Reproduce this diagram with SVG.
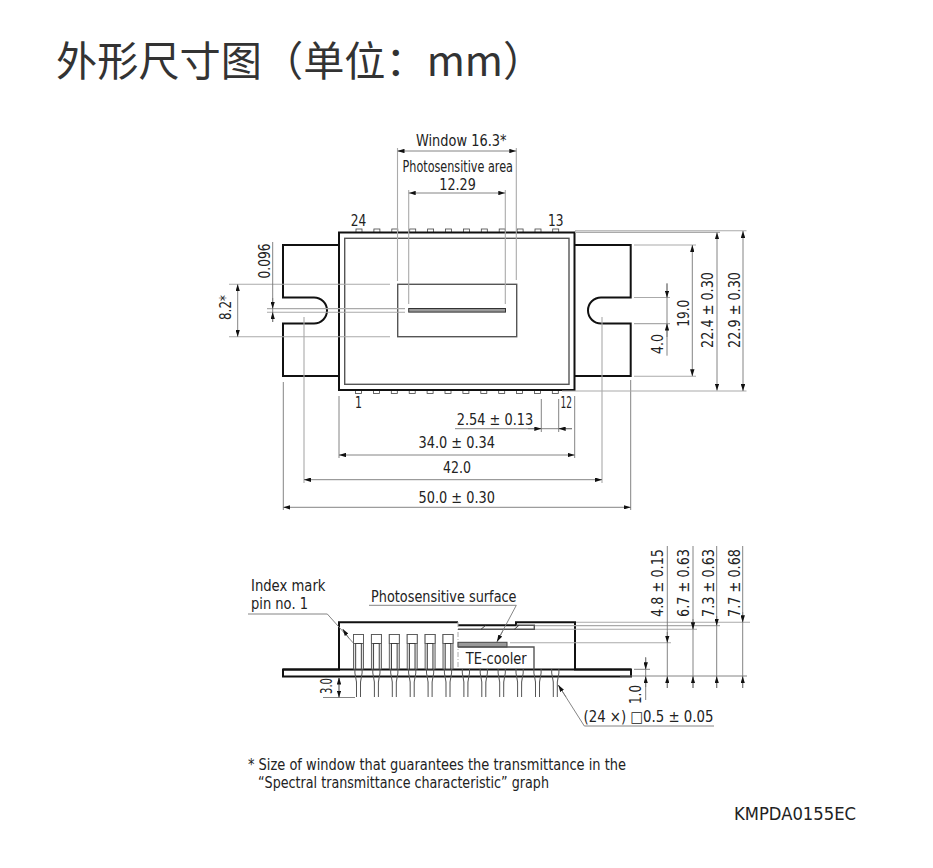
<svg xmlns="http://www.w3.org/2000/svg" xmlns:xlink="http://www.w3.org/1999/xlink" width="933" height="868" viewBox="0 0 933 868">
<style>
text{font-family:"DejaVu Sans","Noto Sans",sans-serif;font-size:15px;fill:#222}
.title{font-family:"Noto Sans CJK SC","Noto Sans",sans-serif;font-size:41.2px;fill:#333}
.fat{fill:none;stroke:#111;stroke-width:2}
.mid{fill:none;stroke:#555;stroke-width:1.4}
.thin{fill:none;stroke:#333;stroke-width:.9}
.d{fill:none;stroke:#777;stroke-width:.9}
.l{fill:none;stroke:#aaa;stroke-width:1.1}
.a{fill:none;stroke:#777;stroke-width:.9;marker-end:url(#ar)}
.b{fill:none;stroke:#777;stroke-width:.9;marker-start:url(#ar);marker-end:url(#ar)}
</style>
<defs>
<marker id="ar" markerUnits="userSpaceOnUse" markerWidth="7" markerHeight="4.4" viewBox="0 0 7 4.4" refX="7" refY="2.2" orient="auto-start-reverse"><path d="M0 0L7 2.2L0 4.4z" fill="#111"/></marker>
<rect id="tp" x="-3" y="0" width="6" height="3.4" fill="#fff" stroke="#444" stroke-width=".8"/>
<path id="stem" d="M-3.6 669L-3.6 673L-2 682V697M3.6 669L3.6 673L2 682V697" fill="#e8e8e8" stroke="#555" stroke-width="1"/>
<g id="head"><rect x="-5" y="634.5" width="10" height="34.5" fill="#e0e0e0" stroke="#555" stroke-width=".9"/><rect x="-5" y="634.5" width="10" height="9" fill="#fff" stroke="#555" stroke-width=".9"/><rect x="-2.8" y="643.5" width="5.6" height="25.5" fill="#fff" stroke="#333" stroke-width=".9"/></g>
</defs>
<rect width="933" height="868" fill="#fff"/>
<text class="title" x="56" y="76">外形尺寸图（单位：mm）</text>

<g id="top-view">
<g id="top-pins">
<use href="#tp" x="359" y="229"/><use href="#tp" x="376.9" y="229"/><use href="#tp" x="394.8" y="229"/><use href="#tp" x="412.7" y="229"/><use href="#tp" x="430.6" y="229"/><use href="#tp" x="448.5" y="229"/><use href="#tp" x="466.4" y="229"/><use href="#tp" x="484.3" y="229"/><use href="#tp" x="502.2" y="229"/><use href="#tp" x="520.1" y="229"/><use href="#tp" x="538" y="229"/><use href="#tp" x="555.7" y="229"/>
<use href="#tp" x="358.5" y="390"/><use href="#tp" x="376.4" y="390"/><use href="#tp" x="394.3" y="390"/><use href="#tp" x="412.2" y="390"/><use href="#tp" x="430.1" y="390"/><use href="#tp" x="448" y="390"/><use href="#tp" x="465.9" y="390"/><use href="#tp" x="483.8" y="390"/><use href="#tp" x="501.7" y="390"/><use href="#tp" x="519.6" y="390"/><use href="#tp" x="537.5" y="390"/><use href="#tp" x="555.3" y="390"/>
</g>
<rect class="fat" x="339" y="232.5" width="235.5" height="157.5"/>
<rect class="mid" x="344.7" y="238.3" width="224.3" height="146"/>
<path id="flange-left" class="fat" d="M339 245H283V297.5H314A13 13 0 0 1 314 323.5H283V376H339"/>
<path id="flange-right" class="fat" d="M575 245H630.7V297.5H601A13 13 0 0 0 601 323.5H630.7V376H575"/>
<rect id="window" class="mid" x="397.7" y="284.3" width="119" height="52.4"/>
<rect id="slit" x="408.7" y="308.5" width="96.8" height="3.6" fill="#999" stroke="#333" stroke-width="1"/>
</g>

<g id="dimensions-top">
<path class="l" d="M397.5 148V281M516.3 148V280M408.7 190V304M505.3 190V304"/>
<path class="b" d="M397.5 151H516.3"/>
<path class="b" d="M408.7 193H505.3"/>
<path class="l" d="M229 284.2H390M229 336.8H390M267 308.6H405M267 312.2H405"/>
<path class="b" d="M237.7 284.2V336.8"/>
<path class="d" d="M272.7 242V322"/>
<path class="a" d="M272.7 298V308.6"/>
<path class="a" d="M272.7 322V312.2"/>
<path class="l" d="M304 317V483M602 317V483"/>
<path class="d" d="M283.3 382V510M630.7 380V510M339 396V458M574.7 396V458M541.3 399V432M558.7 399V432"/>
<path class="b" d="M304 479.7H602"/>
<path class="b" d="M283.3 507.3H630.7"/>
<path class="b" d="M339 455H574.7"/>
<path class="d" d="M455 428.7H572"/>
<path class="a" d="M528 428.7H541.3"/>
<path class="a" d="M572 428.7H558.7"/>
<path class="l" d="M575 230.8H746.5M575 232.4H720M562 391H746.5M634 245H696M634 376.2H696M634 297.5H670M634 323.6H670"/>
<path class="b" d="M717 232.4V390.5"/>
<path class="b" d="M743 231V391"/>
<path class="b" d="M692.3 245V376.2"/>
<path class="d" d="M667 283V355.7"/>
<path class="a" d="M667 284V297.5"/>
<path class="a" d="M667 337V323.6"/>
</g>

<g id="labels-top">
<text x="416" y="145.7" textLength="90.5" lengthAdjust="spacingAndGlyphs">Window 16.3*</text>
<text x="402.5" y="172" textLength="110.5" lengthAdjust="spacingAndGlyphs">Photosensitive area</text>
<text x="439.3" y="190" textLength="36.5" lengthAdjust="spacingAndGlyphs">12.29</text>
<text x="350.7" y="225.5" textLength="15.5" lengthAdjust="spacingAndGlyphs">24</text>
<text x="548" y="225.5" textLength="15.5" lengthAdjust="spacingAndGlyphs">13</text>
<text x="355" y="408" textLength="7" lengthAdjust="spacingAndGlyphs">1</text>
<text x="560.5" y="408" textLength="11.5" lengthAdjust="spacingAndGlyphs">12</text>
<text x="456.7" y="425" textLength="76.5" lengthAdjust="spacingAndGlyphs">2.54 ± 0.13</text>
<text x="418.5" y="448" textLength="76.5" lengthAdjust="spacingAndGlyphs">34.0 ± 0.34</text>
<text x="443" y="473" textLength="28" lengthAdjust="spacingAndGlyphs">42.0</text>
<text x="418.5" y="503" textLength="76.5" lengthAdjust="spacingAndGlyphs">50.0 ± 0.30</text>
<text transform="translate(270 278.5) rotate(-90)" textLength="35" lengthAdjust="spacingAndGlyphs">0.096</text>
<text transform="translate(231 320) rotate(-90)" textLength="25" lengthAdjust="spacingAndGlyphs">8.2*</text>
<text transform="translate(688.5 326.7) rotate(-90)" textLength="27" lengthAdjust="spacingAndGlyphs">19.0</text>
<text transform="translate(663 354) rotate(-90)" textLength="20" lengthAdjust="spacingAndGlyphs">4.0</text>
<text transform="translate(713 348) rotate(-90)" textLength="76" lengthAdjust="spacingAndGlyphs">22.4 ± 0.30</text>
<text transform="translate(739.5 348) rotate(-90)" textLength="76" lengthAdjust="spacingAndGlyphs">22.9 ± 0.30</text>
</g>

<g id="side-view">
<rect id="plate" class="fat" x="283" y="669.5" width="348" height="7" fill="#fff"/>
<path id="body" class="fat" d="M283 669.5H339V622.3H458M458 625.3H516V622.3H575V669.5H631"/>
<path d="M458 622V669" fill="none" stroke="#aaa" stroke-width="1" stroke-dasharray="5 2 1 2"/>
<g id="side-pins">
<use href="#head" x="358.5"/><use href="#head" x="376.4"/><use href="#head" x="394.3"/><use href="#head" x="412.2"/><use href="#head" x="430.1"/><use href="#head" x="448"/>
<use href="#stem" x="358.5"/><use href="#stem" x="376.4"/><use href="#stem" x="394.3"/><use href="#stem" x="412.2"/><use href="#stem" x="430.1"/><use href="#stem" x="448"/><use href="#stem" x="465.9"/><use href="#stem" x="483.8"/><use href="#stem" x="501.7"/><use href="#stem" x="519.6"/><use href="#stem" x="537.5"/><use href="#stem" x="555.3"/>
</g>
<path id="glass" class="mid" d="M516 625.3H534.3V629.3H458"/>
<path class="thin" d="M481 629.3L485.7 625.3M514.3 629.3L519 625.3"/>
<rect id="chip" x="458" y="642.3" width="49" height="4.7" fill="#999" stroke="#444" stroke-width="1"/>
<path id="cooler" class="mid" d="M458 647H534V669"/>
<text x="465.7" y="664" textLength="61" lengthAdjust="spacingAndGlyphs">TE-cooler</text>
</g>

<g id="dimensions-side">
<path class="l" d="M576 622.3H750M535 625.6H720M535 629.3H697M510 642.7H671"/>
<path class="d" d="M620 676H747M634 669.3H650M323 697.5H355"/>
<path class="d" d="M667.3 546V688M693 546V688M716.7 546V688M742.7 546V688M645.7 657V700M339 678V697"/>
<path class="a" d="M667.3 632V642.7"/><path class="a" d="M667.3 688V676.3"/>
<path class="a" d="M693 619V629.3"/><path class="a" d="M693 688V676.3"/>
<path class="a" d="M716.7 616V625.6"/><path class="a" d="M716.7 688V676.3"/>
<path class="a" d="M742.7 612V622.3"/><path class="a" d="M742.7 688V676.3"/>
<path class="a" d="M645.7 658V669.3"/><path class="a" d="M645.7 687V676.3"/>
<path class="b" d="M339 677.5V697.5"/>
<path class="d" d="M248 614H327.3L353.3 643"/>
<path class="a" d="M349 638.3L342.7 629"/>
<path class="d" d="M369 605.3H516.3L497 641.7"/>
<path class="a" d="M503 630.5L497 641.7"/>
<path class="d" d="M714 726H584.3L558.3 685"/>
<path class="a" d="M566 697L558.3 685"/>
</g>

<g id="labels-side">
<text x="251" y="590.7" textLength="74.5" lengthAdjust="spacingAndGlyphs">Index mark</text>
<text x="251" y="608.5" textLength="57" lengthAdjust="spacingAndGlyphs">pin no. 1</text>
<text x="371" y="601.5" textLength="145.5" lengthAdjust="spacingAndGlyphs">Photosensitive surface</text>
<text x="583.5" y="721.7" textLength="130" lengthAdjust="spacingAndGlyphs">(24 ×) □0.5 ± 0.05</text>
<text transform="translate(663.3 617) rotate(-90)" textLength="68" lengthAdjust="spacingAndGlyphs">4.8 ± 0.15</text>
<text transform="translate(689 617) rotate(-90)" textLength="68" lengthAdjust="spacingAndGlyphs">6.7 ± 0.63</text>
<text transform="translate(714.3 617) rotate(-90)" textLength="68" lengthAdjust="spacingAndGlyphs">7.3 ± 0.63</text>
<text transform="translate(740 617) rotate(-90)" textLength="68" lengthAdjust="spacingAndGlyphs">7.7 ± 0.68</text>
<text transform="translate(641 704) rotate(-90)" textLength="19" lengthAdjust="spacingAndGlyphs">1.0</text>
<text transform="translate(332 694) rotate(-90)" textLength="16" lengthAdjust="spacingAndGlyphs">3.0</text>
</g>

<g id="notes">
<text x="248" y="769.5" textLength="378" lengthAdjust="spacingAndGlyphs">* Size of window that guarantees the transmittance in the</text>
<text x="258" y="787.5" textLength="291" lengthAdjust="spacingAndGlyphs">“Spectral transmittance characteristic” graph</text>
<text x="734" y="820" textLength="122" lengthAdjust="spacingAndGlyphs" style="font-size:17px">KMPDA0155EC</text>
</g>
</svg>
